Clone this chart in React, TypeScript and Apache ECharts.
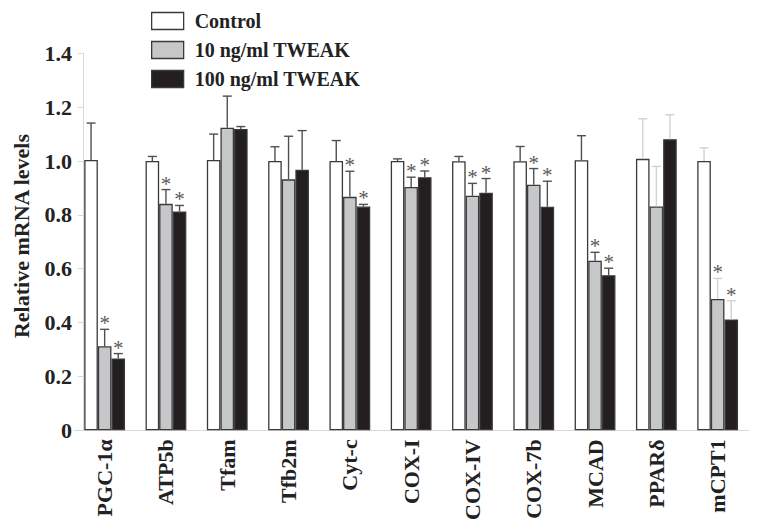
import React, { useEffect, useRef } from 'react';
import * as echarts from 'echarts';

const categories = ['PGC-1α', 'ATP5b', 'Tfam', 'Tfb2m', 'Cyt-c', 'COX-I', 'COX-IV', 'COX-7b', 'MCAD', 'PPARδ', 'mCPT1'];
const seriesNames = ['Control', '10 ng/ml TWEAK', '100 ng/ml TWEAK'];

const control = [1.004, 1.0, 1.004, 1.0, 1.0, 1.0, 0.999, 0.999, 1.003, 1.008, 1.0];
const controlErr = [0.137, 0.017, 0.096, 0.053, 0.076, 0.008, 0.018, 0.055, 0.091, 0.149, 0.049];
const controlSig = [0, 0, 0, 0, 0, 0, 0, 0, 0, 0, 0];

const tweak10 = [0.312, 0.841, 1.124, 0.932, 0.867, 0.904, 0.871, 0.912, 0.63, 0.831, 0.488];
const tweak10Err = [0.063, 0.053, 0.117, 0.16, 0.095, 0.036, 0.046, 0.06, 0.031, 0.149, 0.076];
const tweak10Sig = [1, 1, 0, 0, 1, 1, 1, 1, 1, 0, 1];

const tweak100 = [0.267, 0.813, 1.119, 0.968, 0.831, 0.94, 0.882, 0.83, 0.576, 1.081, 0.412];
const tweak100Err = [0.018, 0.022, 0.009, 0.145, 0.008, 0.023, 0.053, 0.095, 0.026, 0.091, 0.069];
const tweak100Sig = [1, 1, 0, 0, 1, 1, 1, 1, 1, 0, 1];

const yTicks = [0, 0.2, 0.4, 0.6, 0.8, 1.0, 1.2, 1.4];

const FONT = '"Liberation Serif", "Times New Roman", serif';

export default function App() {
  const ref = useRef<HTMLDivElement>(null);

  useEffect(() => {
    const chart = echarts.init(ref.current as HTMLDivElement, null, { renderer: 'svg' });
    const BAR_W = 13.6;
    const fills = ['#ffffff', '#c5c7c8', '#231f20'];
    const valuesList = [control, tweak10, tweak100];
    const errList = [controlErr, tweak10Err, tweak100Err];
    const sigList = [controlSig, tweak10Sig, tweak100Sig];
    const faintCats = ['PPARδ', 'mCPT1'];

    const bars = seriesNames.map((name, s) => ({
      type: 'bar',
      name,
      data: valuesList[s],
      barWidth: BAR_W,
      barGap: '0%',
      itemStyle: { color: fills[s], borderColor: '#3a3a3a', borderWidth: 1.3 },
      z: 2,
    }));

    const errs = seriesNames.map((name, s) => ({
      type: 'custom',
      name: name + ' error',
      silent: true,
      z: 3,
      data: categories.map((c, i) => [i, valuesList[s][i], errList[s][i], sigList[s][i]]),
      encode: { x: 0, y: 1 },
      renderItem: (params: any, api: any) => {
        const i = api.value(0);
        const v = api.value(1);
        const e = api.value(2);
        const sig = api.value(3);
        const base = api.coord([i, v]);
        const top = api.coord([i, v + e]);
        const x = base[0] + (s - 1) * BAR_W;
        const color = faintCats.includes(categories[i]) ? '#d2d2d2' : '#505050';
        const children: any[] = [
          { type: 'line', shape: { x1: x, y1: base[1], x2: x, y2: top[1] }, style: { stroke: color, lineWidth: 1.4 } },
          { type: 'line', shape: { x1: x - 4.5, y1: top[1], x2: x + 4.5, y2: top[1] }, style: { stroke: color, lineWidth: 1.4 } },
        ];
        if (sig) {
          children.push({
            type: 'text',
            x,
            y: top[1] - 6,
            style: {
              text: '*',
              font: '21px ' + FONT,
              fill: '#5a5a5a',
              textAlign: 'center',
              textVerticalAlign: 'middle',
            },
          });
        }
        return { type: 'group', children };
      },
    }));

    chart.setOption({
      animation: false,
      backgroundColor: '#ffffff',
      grid: { left: 74, right: 8.7, top: 53.3, bottom: 84.5, containLabel: false },
      legend: {
        orient: 'vertical',
        left: 151,
        top: 11,
        padding: 0,
        itemWidth: 32,
        itemHeight: 17,
        itemGap: 9,
        icon: 'rect',
        data: seriesNames.map((n, s) => ({
          name: n,
          itemStyle: { color: fills[s], borderColor: '#3a3a3a', borderWidth: 1.3 },
        })),
        textStyle: { fontFamily: FONT, fontSize: 20, fontWeight: 'bold', color: '#222', padding: [0, 0, 0, 6] },
        selectedMode: false,
      },
      xAxis: {
        type: 'category',
        data: categories,
        axisLine: { show: true, lineStyle: { color: '#d8d8d8', width: 1 } },
        axisTick: { show: false },
        axisLabel: {
          rotate: 90,
          interval: 0,
          margin: 9,
          fontFamily: FONT,
          fontSize: 22,
          fontWeight: 'bold',
          color: '#222',
        },
      },
      yAxis: {
        type: 'value',
        min: 0,
        max: 1.4,
        interval: 0.2,
        offset: -9,
        axisLine: { show: true, lineStyle: { color: '#d8d8d8', width: 1 } },
        axisTick: { show: true, length: 5, lineStyle: { color: '#d8d8d8' } },
        splitLine: { show: false },
        axisLabel: {
          margin: 11,
          fontFamily: FONT,
          fontSize: 22,
          fontWeight: 'bold',
          color: '#222',
          formatter: (v: number) => {
            const t = yTicks.find((k) => Math.abs(k - v) < 1e-6);
            const val = t === undefined ? v : t;
            return val === 0 ? '0' : val.toFixed(1);
          },
        },
      },
      graphic: [
        {
          type: 'text',
          x: 21,
          y: 236,
          rotation: Math.PI / 2,
          style: {
            text: 'Relative mRNA levels',
            font: 'bold 22px ' + FONT,
            fill: '#222',
            textAlign: 'center',
            textVerticalAlign: 'middle',
          },
        },
      ],
      series: [...bars, ...errs],
    });

    return () => {
      chart.dispose();
    };
  }, []);

  return (
    <div
      ref={ref}
      style={{ width: 757, height: 523, position: 'absolute', left: 0, top: 0 }}
    />
  );
}
